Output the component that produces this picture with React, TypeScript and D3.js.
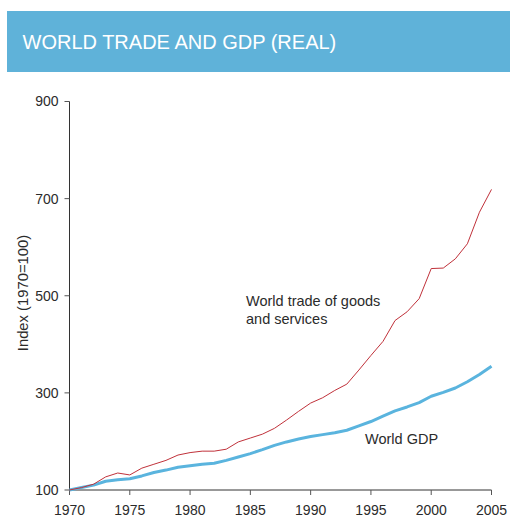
import React from "react";
import * as d3 from "d3";

const years = d3.range(1970, 2006);
const tradeValues = [
  100, 105, 112, 127, 135, 131, 145, 153, 161, 172,
  177, 180, 180, 184, 199, 207, 215, 227, 244, 262,
  279, 290, 305, 318, 347, 377, 406, 449, 467, 494,
  556, 557, 576, 607, 672, 719,
];
const gdpValues = [
  100, 105, 110, 118, 121, 123, 129, 136, 141, 147,
  150, 153, 155, 161, 168, 175, 183, 192, 199, 205,
  210, 214, 218, 223, 232, 241, 252, 263, 271, 280,
  293, 301, 310, 323, 338, 355,
];
const yTicks = [100, 300, 500, 700, 900];
const xTicks = [1970, 1975, 1980, 1985, 1990, 1995, 2000, 2005];

const title = "WORLD TRADE AND GDP (REAL)";
const yLabel = "Index (1970=100)";
const tradeLabel = ["World trade of goods", "and services"];
const gdpLabel = "World GDP";

export default function App() {
  const W = 510;
  const H = 517;
  const left = 69.5;
  const right = 491.5;
  const top = 101.5;
  const bottom = 490;
  const x = d3.scaleLinear().domain([1970, 2005]).range([left, right]);
  const y = d3.scaleLinear().domain([100, 900]).range([bottom, top]);
  const line = d3
    .line<number>()
    .x((_, i) => x(years[i]))
    .y((d) => y(d))
    .curve(d3.curveLinear);
  const font = "Liberation Sans, Arial, sans-serif";
  const textColor = "#2b2b2b";

  return (
    <svg
      width={W}
      height={H}
      style={{ position: "absolute", left: 0, top: 0, background: "#fff" }}
      fontFamily={font}
    >
      <rect x={7} y={11} width={W - 7} height={61} fill="#5fb2d9" />
      <text x={22.5} y={49} fill="#fff" fontSize={20}>
        {title}
      </text>

      {/* y axis */}
      <line x1={left} x2={left} y1={top} y2={bottom} stroke="#333" strokeWidth={1} />
      {yTicks.map((t) => (
        <g key={t}>
          <line x1={left - 5} x2={left} y1={y(t)} y2={y(t)} stroke="#555" strokeWidth={1} />
          <text
            x={left - 11}
            y={y(t)}
            dy="0.35em"
            textAnchor="end"
            fontSize={14}
            fill={textColor}
          >
            {t}
          </text>
        </g>
      ))}
      {/* x axis */}
      <line x1={left} x2={right} y1={bottom} y2={bottom} stroke="#333" strokeWidth={1} />
      {xTicks.map((t) => (
        <g key={t}>
          <line x1={x(t)} x2={x(t)} y1={bottom} y2={bottom + 5} stroke="#555" strokeWidth={1} />
          <text x={x(t)} y={514.5} textAnchor="middle" fontSize={14} fill={textColor}>
            {t}
          </text>
        </g>
      ))}

      <text
        transform={`translate(28, 293) rotate(-90)`}
        textAnchor="middle"
        fontSize={14.8}
        fill={textColor}
      >
        {yLabel}
      </text>

      <path d={line(gdpValues) || ""} fill="none" stroke="#5ab4de" strokeWidth={3} strokeLinejoin="round" />
      <path d={line(tradeValues) || ""} fill="none" stroke="#c0313a" strokeWidth={1} strokeLinejoin="round" />

      <text x={246} y={306} fontSize={14.5} fill={textColor}>
        {tradeLabel[0]}
      </text>
      <text x={246} y={324} fontSize={14.5} fill={textColor}>
        {tradeLabel[1]}
      </text>
      <text x={365} y={444} fontSize={14.5} fill={textColor}>
        {gdpLabel}
      </text>
    </svg>
  );
}
